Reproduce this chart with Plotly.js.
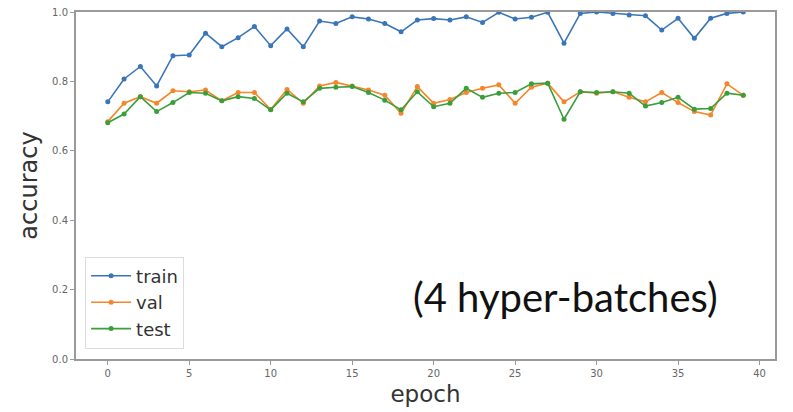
<!DOCTYPE html>
<html>
<head>
<meta charset="utf-8">
<script src="https://cdn.plot.ly/plotly-3.0.1.min.js"></script>
<style>html,body{margin:0;padding:0;background:#fff;}#chart{width:793px;height:412px;}</style>
</head>
<body>
<div id="chart"></div>
<script>
const epochs = Array.from({length: 40}, (_, i) => i);
const trainAcc = [0.741,0.807,0.843,0.787,0.874,0.876,0.939,0.900,0.926,0.958,
                  0.903,0.951,0.900,0.974,0.967,0.986,0.980,0.967,0.943,0.977,
                  0.981,0.977,0.986,0.970,0.999,0.980,0.985,0.999,0.910,0.996,
                  1.000,0.996,0.991,0.989,0.948,0.982,0.924,0.982,0.996,1.000];
const valAcc   = [0.684,0.737,0.756,0.737,0.773,0.770,0.775,0.744,0.768,0.768,
                  0.719,0.777,0.737,0.787,0.797,0.787,0.775,0.760,0.708,0.785,
                  0.737,0.748,0.768,0.780,0.790,0.737,0.783,0.795,0.741,0.770,
                  0.766,0.770,0.754,0.741,0.768,0.739,0.713,0.703,0.793,0.760];
const testAcc  = [0.681,0.706,0.756,0.713,0.739,0.768,0.766,0.744,0.756,0.751,
                  0.718,0.766,0.741,0.780,0.783,0.785,0.768,0.746,0.718,0.770,
                  0.727,0.737,0.780,0.754,0.766,0.768,0.793,0.795,0.691,0.770,
                  0.768,0.770,0.766,0.729,0.739,0.754,0.720,0.722,0.766,0.760];
const xTicks = [0,5,10,15,20,25,30,35,40];
const yTicks = [0,0.2,0.4,0.6,0.8,1.0];
const yTickText = ['0.0','0.2','0.4','0.6','0.8','1.0'];
const annotationText = '(4 hyper-batches)';

function series(name, y, color) {
  return {x: epochs, y: y, name: name, type: 'scatter', mode: 'lines+markers',
          line: {color: color, width: 1.6}, marker: {color: color, size: 5}};
}
const data = [
  series('train', trainAcc, '#3a75b8'),
  series('val', valAcc, '#f5862a'),
  series('test', testAcc, '#3a9e3a')
];
const axisCommon = {
  showgrid: false, zeroline: false, showline: true, mirror: true,
  linecolor: '#9a9a9a', linewidth: 2, ticks: 'outside', ticklen: 4,
  tickcolor: '#9a9a9a', tickwidth: 1,
  tickfont: {family: 'DejaVu Sans', size: 10, color: '#666'}
};
const layout = {
  width: 793, height: 412,
  margin: {l: 76, r: 18, t: 12, b: 53},
  paper_bgcolor: '#fff', plot_bgcolor: '#fff',
  xaxis: Object.assign({}, axisCommon, {
    range: [-1.95, 40.95], tickvals: xTicks,
    title: {text: 'epoch', font: {family: 'DejaVu Sans', size: 23, color: '#333'}, standoff: 8}
  }),
  yaxis: Object.assign({}, axisCommon, {
    range: [0, 1.0], tickvals: yTicks, ticktext: yTickText,
    title: {text: 'accuracy', font: {family: 'DejaVu Sans', size: 24, color: '#333'}, standoff: 8}
  }),
  showlegend: true,
  legend: {
    x: 0.013, y: 0.03, xanchor: 'left', yanchor: 'bottom',
    bgcolor: 'rgba(255,255,255,0.9)', bordercolor: '#dcdcdc', borderwidth: 1,
    font: {family: 'DejaVu Sans', size: 18, color: '#333'},
    itemwidth: 40, tracegroupgap: 0
  },
  annotations: [{
    text: annotationText, xref: 'paper', yref: 'paper',
    x: 0.701, y: 0.18, xanchor: 'center', yanchor: 'middle', showarrow: false,
    font: {family: 'Lato', size: 40, color: '#111'}
  }]
};
Plotly.newPlot('chart', data, layout, {displayModeBar: false, staticPlot: true});
</script>
</body>
</html>
